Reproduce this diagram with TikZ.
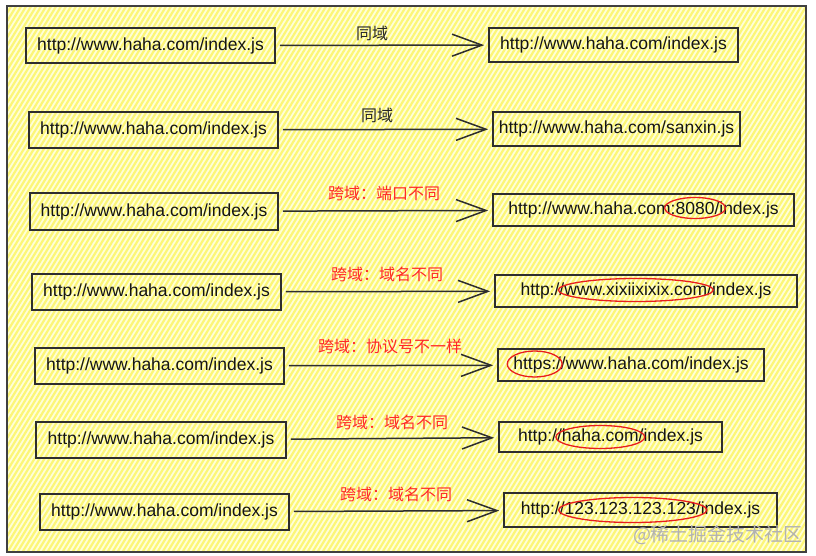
\documentclass[tikz,border=0pt]{standalone}
\usepackage{fontspec}
\setmainfont{Liberation Sans}
\newfontfamily\cjk{Noto Sans CJK SC}
\usetikzlibrary{arrows.meta,calc}
\definecolor{hatchbg}{RGB}{255,255,215}
\definecolor{hatchln}{RGB}{252,246,120}
\definecolor{labred}{RGB}{255,40,40}
\definecolor{ringred}{RGB}{232,30,30}
\newcommand\urlfont{\fontsize{17.5}{20}\selectfont}
\newlength\mkfull \newlength\mkpre \newlength\mkmid
\newcommand\measure[4]{% key, full, pre, mark
  \settowidth\mkfull{\normalfont\urlfont #2}%
  \settowidth\mkpre{\normalfont\urlfont #3}%
  \settowidth\mkmid{\normalfont\urlfont #4}%
  \expandafter\xdef\csname mkoff#1\endcsname{\the\dimexpr -\mkfull/2+\mkpre+\mkmid/2\relax}%
  \expandafter\xdef\csname mkrx#1\endcsname{\the\dimexpr \mkmid/2+6pt\relax}}
\AtBeginDocument{%
  \measure{C}{http://www.haha.com:8080/index.js}{http://www.haha.com}{:8080/}%
  \measure{D}{http://www.xixiixixix.com/index.js}{http://}{www.xixiixixix.com}%
  \measure{E}{https://www.haha.com/index.js}{}{https:}%
  \measure{F}{http://haha.com/index.js}{http://}{haha.com}%
  \measure{G}{http://123.123.123.123/index.js}{http://}{123.123.123.123/}}
\newcommand\ringtext[4]{% node, key, y radius, y shift
  \draw[redring] ($(#1.center)+(\csname mkoff#2\endcsname,#4)$)
    ellipse [x radius=\csname mkrx#2\endcsname, y radius=#3];}
\tikzset{
  urlbox/.style={draw=black!82, line width=1.6pt, inner sep=0pt, minimum height=35pt,
    font=\urlfont, text=black!92},
  link/.style={line width=1.5pt, draw=black!82,
    -{Straight Barb[length=30pt,width=22pt,line width=1.5pt]},
    shorten <=4pt, shorten >=4pt},
  samelab/.style={font=\cjk\fontsize{16}{18}\selectfont, text=black!85},
  crosslab/.style={font=\cjk\fontsize{16}{18}\selectfont, text=labred},
  redring/.style={draw=ringred, line width=1.3pt},
  hatch/.style={draw=hatchln, line width=2.2pt}
}
\begin{document}
\begin{tikzpicture}[x=1pt,y=-1pt]
\useasboundingbox (0,0) rectangle (816,556);
\fill[white] (0,0) rectangle (816,556);
% hatched background
\fill[hatchbg] (7,6) rectangle (806,552);
\begin{scope}
  \clip (7,6) rectangle (806,552);
  \foreach \i in {-345,-340,...,810} \draw[hatch] (\i,556) -- ++(340,-556);
\end{scope}
\draw[line width=1.3pt, draw=black!75] (7,6) rectangle (806,552);

% row 1
\node[urlbox, minimum width=249pt, minimum height=35pt] (L1) at (150.5,45.5) {http://www.haha.com/index.js};
\node[urlbox, minimum width=249pt, minimum height=34pt] (R1) at (613.5,45) {http://www.haha.com/index.js};
\draw[link] (L1) -- (R1);
\node[samelab] (T1) at (372,33) {同域};

% row 2
\node[urlbox, minimum width=249pt, minimum height=36pt] (L2) at (153.5,130) {http://www.haha.com/index.js};
\node[urlbox, minimum width=247pt, minimum height=34pt] (R2) at (616.5,129) {http://www.haha.com/sanxin.js};
\draw[link] (L2) -- (R2);
\node[samelab] (T2) at (377,115) {同域};

% row 3
\node[urlbox, minimum width=248pt, minimum height=37pt] (L3) at (154,211.5) {http://www.haha.com/index.js};
\node[urlbox, minimum width=301pt, minimum height=32pt] (R3) at (643.5,210) {http://www.haha.com:8080/index.js};
\draw[link] (L3) -- (R3);
\node[crosslab] (T3) at (384,193) {跨域：端口不同};
\ringtext{R3}{C}{10.5pt}{2pt}

% row 4
\node[urlbox, minimum width=249pt, minimum height=36pt] (L4) at (156.5,292) {http://www.haha.com/index.js};
\node[urlbox, minimum width=302pt, minimum height=32pt] (R4) at (646,291) {http://www.xixiixixix.com/index.js};
\draw[link] (L4) -- (R4);
\node[crosslab] (T4) at (387,274) {跨域：域名不同};
\ringtext{R4}{D}{11.5pt}{1pt}

% row 5
\node[urlbox, minimum width=249pt, minimum height=36pt] (L5) at (159.5,366) {http://www.haha.com/index.js};
\node[urlbox, minimum width=266pt, minimum height=32pt] (R5) at (631,365) {https://www.haha.com/index.js};
\draw[link] (L5) -- (R5);
\node[crosslab] (T5) at (390,346) {跨域：协议号不一样};
\ringtext{R5}{E}{13pt}{1pt}

% row 6
\node[urlbox, minimum width=250pt, minimum height=36pt] (L6) at (161,440) {http://www.haha.com/index.js};
\node[urlbox, minimum width=223pt, minimum height=30pt] (R6) at (610.5,437) {http://haha.com/index.js};
\draw[link] (L6) -- (R6);
\node[crosslab] (T6) at (392,422) {跨域：域名不同};
\ringtext{R6}{F}{11.5pt}{0pt}

% row 7
\node[urlbox, minimum width=249pt, minimum height=36pt] (L7) at (164.5,512) {http://www.haha.com/index.js};
\node[urlbox, minimum width=273pt, minimum height=34pt] (R7) at (640.5,510) {http://123.123.123.123/index.js};
\draw[link] (L7) -- (R7);
\node[crosslab] (T7) at (396,494) {跨域：域名不同};
\ringtext{R7}{G}{12.5pt}{0pt}

% watermark
\node[font=\cjk\fontsize{19}{21}\selectfont, text=black!30] (WM) at (718,535) {@稀土掘金技术社区};
\end{tikzpicture}
\end{document}
